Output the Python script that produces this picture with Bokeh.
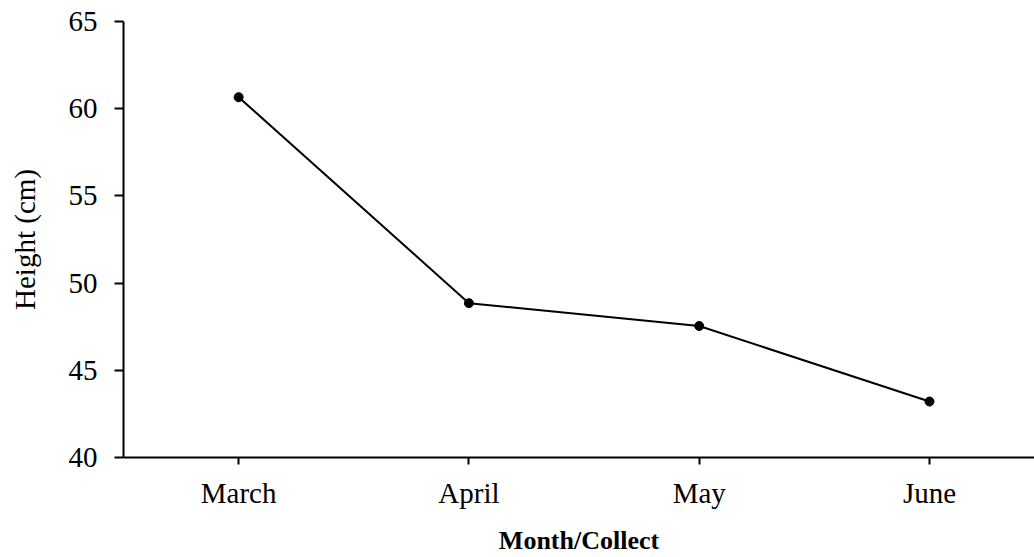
from bokeh.plotting import figure
from bokeh.models import Range1d, FixedTicker, ColumnDataSource
from bokeh.embed import file_html
from bokeh.resources import INLINE

months = ["March", "April", "May", "June"]
heights = [60.66, 48.85, 47.54, 43.21]
y_ticks = [40, 45, 50, 55, 60, 65]

xs = list(range(len(months)))
src = ColumnDataSource(dict(x=xs, y=heights))

FONT = "Liberation Serif"

p = figure(width=1034, height=557, output_backend="svg", toolbar_location=None,
           x_range=Range1d(-0.5, 3.456), y_range=Range1d(40, 65),
           min_border_left=123, min_border_right=0, min_border_top=21, min_border_bottom=99)
p.outline_line_color = None
p.xgrid.visible = False
p.ygrid.visible = False
p.background_fill_color = "white"
p.border_fill_color = "white"

p.line("x", "y", source=src, line_color="black", line_width=2)
p.scatter("x", "y", source=src, size=9, fill_color="black", line_color="black")

xa = p.xaxis[0]
xa.ticker = FixedTicker(ticks=xs)
xa.major_label_overrides = {i: m for i, m in enumerate(months)}
xa.axis_label = "Month/Collect"
xa.axis_label_text_font = FONT
xa.axis_label_text_font_style = "bold"
xa.axis_label_text_font_size = "26px"
xa.axis_label_standoff = 14
xa.major_label_text_font = FONT
xa.major_label_text_font_size = "29px"
xa.major_label_standoff = 12
xa.major_tick_in = 0
xa.major_tick_out = 7
xa.minor_tick_line_color = None
xa.axis_line_width = 2
xa.major_tick_line_width = 2
xa.axis_line_color = "black"
xa.major_tick_line_color = "black"
xa.major_label_text_color = "black"
xa.axis_label_text_color = "black"

ya = p.yaxis[0]
ya.ticker = FixedTicker(ticks=y_ticks)
ya.axis_label = "Height (cm)"
ya.axis_label_text_font = FONT
ya.axis_label_text_font_style = "normal"
ya.axis_label_text_font_size = "29px"
ya.axis_label_standoff = 25
ya.major_label_text_font = FONT
ya.major_label_text_font_size = "29px"
ya.major_label_standoff = 17
ya.major_tick_in = 0
ya.major_tick_out = 9
ya.minor_tick_line_color = None
ya.axis_line_width = 2
ya.major_tick_line_width = 2
ya.axis_line_color = "black"
ya.major_tick_line_color = "black"
ya.major_label_text_color = "black"
ya.axis_label_text_color = "black"

open("out.html", "w").write(file_html(p, INLINE))
